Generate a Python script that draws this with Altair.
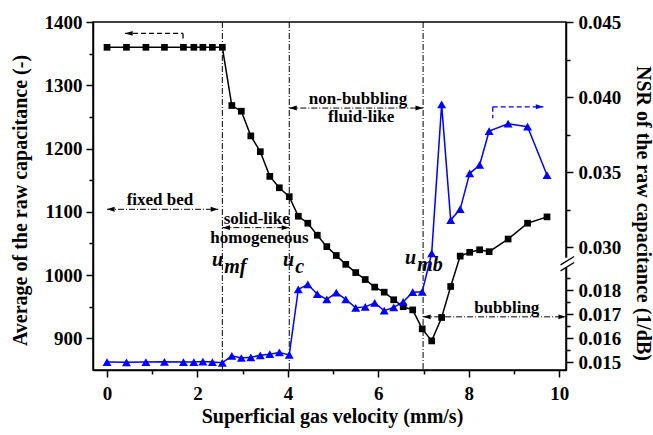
import altair as alt
import pandas as pd

# ---------------- data ----------------
velocity = [0, 0.43, 0.86, 1.27, 1.69, 1.92, 2.12, 2.33, 2.55, 2.76, 2.97, 3.18, 3.39,
            3.60, 3.81, 4.03, 4.23, 4.44, 4.65, 4.86, 5.07, 5.28, 5.50, 5.71, 5.92,
            6.13, 6.34, 6.55, 6.76, 6.97, 7.18, 7.40, 7.60, 7.81, 8.02, 8.24, 8.45,
            8.87, 9.30, 9.73]
capacitance = [1360, 1360, 1360, 1360, 1360, 1360, 1360, 1360, 1360, 1268, 1259, 1220,
               1195, 1156, 1138, 1124, 1093, 1082, 1063, 1045, 1031, 1017, 1004, 993,
               981, 973, 961, 950, 945, 915, 896, 933, 982, 1030, 1036, 1040, 1037,
               1057, 1082, 1092]
nsr = [0.01500, 0.01499, 0.01500, 0.01501, 0.01500, 0.01500, 0.01502, 0.01500, 0.01497,
       0.01526, 0.01517, 0.01520, 0.01528, 0.01533, 0.01540, 0.01530, 0.01803, 0.01824,
       0.01783, 0.01761, 0.01789, 0.01761, 0.01726, 0.01730, 0.01747, 0.01714, 0.01728,
       0.01751, 0.01791, 0.01793, 0.02958, 0.03951, 0.03180, 0.03253, 0.03491, 0.03547,
       0.03773, 0.03822, 0.03802, 0.03480]

# regime boundaries (u_mf, u_c, u_mb)
bound_x = [2.55, 4.03, 6.99]

# right axis tick values (real NSR units)
r_major = [0.015, 0.016, 0.017, 0.018, 0.030, 0.035, 0.040, 0.045]
r_minor = [0.0155, 0.0165, 0.0175, 0.0185, 0.0325, 0.0375, 0.0425]

# annotations (x in mm/s, y in left-axis units)
reg_x = [0.0, 2.55, 4.03, 6.99]
reg_x2 = [2.46, 4.03, 6.99, 10.15]
reg_y = [1104, 1075, 1264, 934]

leg_x = [0.40, 1.68, 8.53, 8.53]
leg_x2 = [1.68, 1.68, 9.65, 8.53]
leg_y = [1382, 1382, 1266, 1266]
leg_y2 = [1382, 1371, 1266, 1248]
leg_col = ["black", "black", "blue", "blue"]

lab_text = ["fixed bed", "solid-like", "homogeneous", "non-bubbling", "fluid-like", "bubbling"]
lab_x = [1.17, 3.31, 3.37, 5.55, 5.62, 8.84]
lab_y = [1110, 1081, 1051, 1271, 1242, 940]

u_text = ["u", "mf", "u", "c", "u", "mb"]
u_x = [2.32, 2.59, 3.89, 4.16, 6.59, 6.86]
u_y = [1014, 1003, 1014, 1003, 1017, 1006]

# ---------------- broken right axis mapping ----------------
B_LO, B_HI, K = 0.019, 0.02873, 0.625


def disp(v):
    return v if v <= B_LO else B_LO + (v - B_HI) * K


df = pd.DataFrame({"v": velocity, "cap": capacitance, "nsr": nsr})
df["nsr_d"] = [disp(v) for v in nsr]

X_DOM = [-0.31, 10.15]
L_DOM = [850, 1400]
R_DOM = [0.01467, 0.02917]

xs = alt.Scale(domain=X_DOM, nice=False, zero=False)
ls = alt.Scale(domain=L_DOM, nice=False, zero=False)
rs = alt.Scale(domain=R_DOM, nice=False, zero=False)

FONT = "Liberation Serif"

x_axis = alt.Axis(
    title="Superficial gas velocity (mm/s)",
    values=list(range(0, 11)),
    labelExpr="datum.value % 2 == 0 ? datum.label : ''",
    tickSize={"condition": {"test": "datum.value % 2 != 0", "value": 4}, "value": 7},
    labelPadding=7,
    titleX=239, titleY=46, titleBaseline="middle", titleAlign="center",
)
l_axis = alt.Axis(
    title="Average of the raw capacitance (-)",
    values=[900, 950, 1000, 1050, 1100, 1150, 1200, 1250, 1300, 1350, 1400],
    format="d",
    labelExpr="datum.value % 100 == 0 ? datum.label : ''",
    tickSize={"condition": {"test": "datum.value % 100 != 0", "value": 4}, "value": 7},
    labelPadding=4,
    titleX=-73, titleY=178, titleAngle=-90, titleBaseline="middle", titleAlign="center",
)
inv = f"(datum.value > {B_LO + 1e-6} ? {B_HI} + (datum.value - {B_LO}) / {K} : datum.value)"
r_axis = alt.Axis(
    title="NSR of the raw capacitance (1/dB)",
    values=sorted(disp(v) for v in r_major + r_minor),
    labelExpr=f"round({inv} * 10000) % 10 != 0 ? '' : format({inv}, '.3f')",
    tickSize={"condition": {"test": f"round({inv} * 10000) % 10 != 0", "value": 4}, "value": 7},
    labelPadding=5,
    titleX=76, titleY=191, titleAngle=90, titleBaseline="middle", titleAlign="center",
)


def X(field, **kw):
    return alt.X(field, scale=xs, axis=x_axis, **kw)


def YL(field):
    return alt.Y(field, scale=ls, axis=l_axis)


def YR(field):
    return alt.Y(field, scale=rs, axis=r_axis)


base = alt.Chart(df)

# ---------- left-scale layer ----------
cap_line = base.mark_line(color="black", strokeWidth=1.5).encode(x=X("v:Q"), y=YL("cap:Q"))
cap_pts = base.mark_point(shape="square", filled=True, size=45, color="black", opacity=1).encode(
    x=X("v:Q"), y=YL("cap:Q")
)

vlines = alt.Chart(pd.DataFrame({"x": bound_x})).mark_rule(
    color="black", strokeWidth=1, strokeDash=[6, 2, 1, 2]
).encode(x=X("x:Q"))

reg_df = pd.DataFrame({"x": reg_x, "x2": reg_x2, "y": reg_y})
reg_arrows = alt.Chart(reg_df).mark_rule(
    color="black", strokeWidth=1, strokeDash=[6, 2, 1, 2]
).encode(x=X("x:Q"), x2="x2:Q", y=YL("y:Q"))

ARROW_R = "M0,0L-1,-0.32L-1,0.32Z"
ARROW_L = "M0,0L1,-0.32L1,0.32Z"

head_rows = []
for a, b, y in zip(reg_x, reg_x2, reg_y):
    head_rows.append({"x": a, "y": y, "dir": "left", "c": "black"})
    head_rows.append({"x": b, "y": y, "dir": "right", "c": "black"})
head_rows.append({"x": leg_x[0], "y": leg_y[0], "dir": "left", "c": "black"})
head_rows.append({"x": leg_x2[2], "y": leg_y[2], "dir": "right", "c": "blue"})
heads = alt.Chart(pd.DataFrame(head_rows)).mark_point(filled=True, size=230, opacity=1).encode(
    x=X("x:Q"),
    y=YL("y:Q"),
    shape=alt.Shape("dir:N", scale=alt.Scale(domain=["left", "right"], range=[ARROW_L, ARROW_R]), legend=None),
    color=alt.Color("c:N", scale=None),
)

leg_df = pd.DataFrame({"x": leg_x, "x2": leg_x2, "y": leg_y, "y2": leg_y2, "c": leg_col})
leg_arrows = alt.Chart(leg_df).mark_rule(strokeWidth=1.3, strokeDash=[5, 3]).encode(
    x=X("x:Q"), x2="x2:Q", y=YL("y:Q"), y2="y2:Q",
    color=alt.Color("c:N", scale=None),
)

labels = alt.Chart(pd.DataFrame({"t": lab_text, "x": lab_x, "y": lab_y})).mark_text(
    font=FONT, fontWeight="bold", fontSize=17, align="center", baseline="alphabetic", color="black"
).encode(x=X("x:Q"), y=YL("y:Q"), text="t:N")

u_labels = alt.Chart(pd.DataFrame({"t": u_text, "x": u_x, "y": u_y})).mark_text(
    font=FONT, fontWeight="bold", fontStyle="italic", fontSize=20, align="left",
    baseline="alphabetic", color="black"
).encode(x=X("x:Q"), y=YL("y:Q"), text="t:N")

left_layer = alt.layer(cap_line, cap_pts, vlines, reg_arrows, leg_arrows, heads, labels, u_labels)

# ---------- right-scale layer ----------
nsr_line = base.mark_line(color="blue", strokeWidth=1.5).encode(x=X("v:Q"), y=YR("nsr_d:Q"))
nsr_pts = base.mark_point(shape="triangle-up", filled=True, size=80, color="blue", opacity=1).encode(
    x=X("v:Q"), y=YR("nsr_d:Q")
)

# axis break marks: white gap + two slashes
gap = alt.Chart(pd.DataFrame({"x": [X_DOM[1]], "y": [0.01893], "y2": [0.01935]})).mark_rule(
    color="white", strokeWidth=4
).encode(x=X("x:Q"), y=YR("y:Q"), y2="y2:Q")
slash_df = pd.DataFrame({"x": [10.03, 10.03], "x2": [10.33, 10.33],
                         "y": [0.01880, 0.01905], "y2": [0.01915, 0.01940]})
slashes = alt.Chart(slash_df).mark_rule(color="black", strokeWidth=1.3).encode(
    x=X("x:Q"), x2="x2:Q", y=YR("y:Q"), y2="y2:Q"
)

right_layer = alt.layer(nsr_line, nsr_pts, gap, slashes)

chart = (
    alt.layer(left_layer, right_layer)
    .resolve_scale(y="independent")
    .properties(
        width=473, height=348,
        padding={"left": 93, "top": 22, "right": 87, "bottom": 65},
        autosize=alt.AutoSizeParams(type="none"),
    )
    .configure_view(stroke="black", strokeWidth=1.5)
    .configure_axis(
        grid=False, domainColor="black", tickColor="black", labelColor="black",
        titleColor="black", labelFont=FONT, titleFont=FONT, labelFontWeight="bold",
        titleFontWeight="bold", labelFontSize=19, titleFontSize=20,
        domainWidth=1.5, tickWidth=1.5,
    )
)

chart.save("out.html", embed_options={"renderer": "svg", "actions": False})
